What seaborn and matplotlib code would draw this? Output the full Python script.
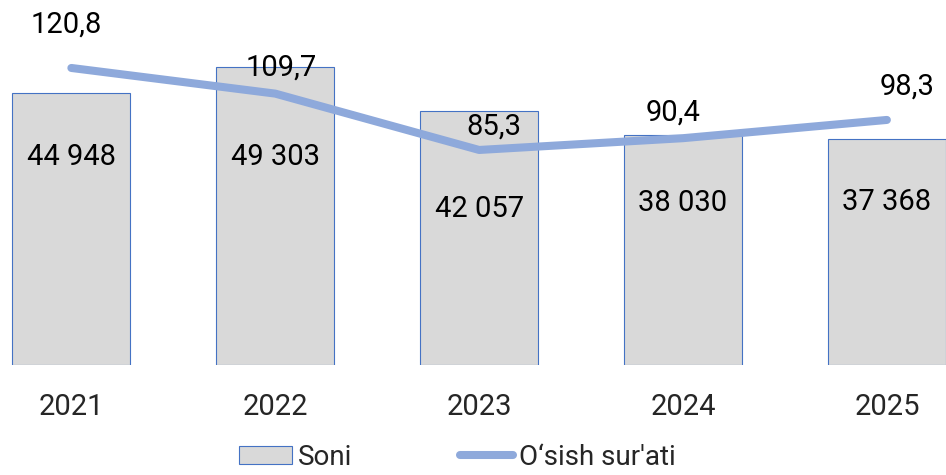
import numpy as np
import seaborn as sns
import matplotlib.pyplot as plt
from matplotlib.patches import Patch
from matplotlib.lines import Line2D

years = ['2021', '2022', '2023', '2024', '2025']
soni = [44948, 49303, 42057, 38030, 37368]
osish = [120.8, 109.7, 85.3, 90.4, 98.3]

soni_labels = ['44 948', '49 303', '42 057', '38 030', '37 368']
osish_labels = ['120,8', '109,7', '85,3', '90,4', '98,3']

bar_color = '#D9D9D9'
edge_color = '#4472C4'
line_color = '#8EA9DB'
fs = 21

sns.set_style('white')
plt.rcParams['font.family'] = ['Roboto', 'DejaVu Sans']

fig = plt.figure(figsize=(9.46, 4.75), dpi=100)
ax = fig.add_axes([0, 0.2316, 1, 0.7634])

sns.barplot(x=years, y=soni, ax=ax, color=bar_color, edgecolor=edge_color,
            linewidth=0.8, width=0.58, saturation=1)
ax.set_ylim(0, 60000)
ax.set_xlim(-0.35, 4.29)

# label offsets below bar top (points), set by eye
bar_off = [-46, -65, -70.5, -49, -45]
for i, (v, t) in enumerate(zip(soni, soni_labels)):
    ax.annotate(t, (i, v), xytext=(0, bar_off[i]), textcoords='offset points',
                ha='center', va='center', fontsize=fs, color='black')

ax2 = ax.twinx()
xs = np.arange(len(years))
sns.lineplot(x=xs, y=osish, ax=ax2, color=line_color, linewidth=5.8,
             solid_capstyle='round')
ax2.set_ylim(-7.8, 149.2)
ax2.set_xlim(-0.35, 4.29)

line_off = [(-4, 31), (4.3, 18.7), (10.4, 16.5), (-6.8, 18.4), (14.8, 23.8)]
for i, (v, t) in enumerate(zip(osish, osish_labels)):
    ax2.annotate(t, (i, v), xytext=line_off[i], textcoords='offset points',
                 ha='center', va='center', fontsize=fs, color='black')

for a in (ax, ax2):
    for s in a.spines.values():
        s.set_visible(False)
    a.set_yticks([])
    a.set_ylabel('')
ax.tick_params(axis='x', length=0, labelsize=fs, pad=20)

handles = [Patch(facecolor=bar_color, edgecolor=edge_color, linewidth=0.8),
           Line2D([0], [0], color=line_color, linewidth=5.8, solid_capstyle='round')]
fig.legend(handles, ['Soni', 'O‘sish sur\'ati'], loc='center', bbox_to_anchor=(0.4836, 0.037),
           ncol=2, frameon=False, fontsize=20, handlelength=1.9, handleheight=0.65,
           handletextpad=0.2, columnspacing=3.9, borderpad=0.1)

fig.savefig('out.png', dpi=100)
